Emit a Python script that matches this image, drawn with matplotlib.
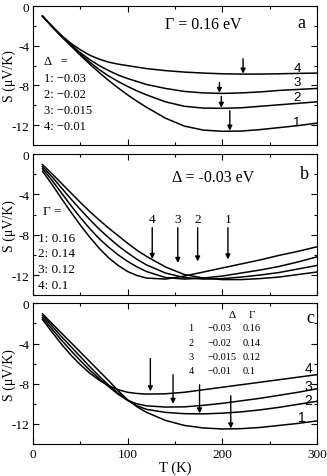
import matplotlib
matplotlib.use("Agg")
import matplotlib.pyplot as plt
from matplotlib.ticker import MultipleLocator

plt.rcParams['font.family'] = ['Liberation Serif', 'DejaVu Serif']
plt.rcParams['mathtext.fontset'] = 'stix'

# ----------------------------
# Data
# ----------------------------

T = [10, 20, 30, 40, 50, 60, 70, 80, 90, 100, 110, 120,
     140, 160, 180, 200, 220, 240, 260, 280, 300]

# panel a: Gamma = 0.16 eV, Delta varies
a1 = [-1.0, -2.05, -3.05, -4.0, -4.95, -5.85, -6.7, -7.5, -8.25, -8.95, -9.6, -10.2,
      -11.3, -12.1, -12.5, -12.62, -12.6, -12.45, -12.25, -12.05, -11.8]
a2 = [-1.0, -2.05, -3.05, -3.95, -4.85, -5.65, -6.4, -7.05, -7.6, -8.1, -8.55, -8.95,
      -9.65, -10.1, -10.28, -10.3, -10.25, -10.1, -9.95, -9.8, -9.65]
a3 = [-1.0, -2.05, -3.0, -3.9, -4.7, -5.4, -6.0, -6.5, -6.95, -7.3, -7.6, -7.9,
      -8.3, -8.6, -8.75, -8.8, -8.75, -8.65, -8.5, -8.4, -8.3]
a4 = [-1.0, -2.0, -2.95, -3.75, -4.4, -4.95, -5.35, -5.65, -5.85, -6.0, -6.15, -6.3,
      -6.5, -6.65, -6.75, -6.82, -6.85, -6.85, -6.82, -6.78, -6.75]

# panel b: Delta = -0.03 eV, Gamma varies
b1 = [-1.05, -1.95, -2.9, -3.85, -4.8, -5.7, -6.55, -7.35, -8.1, -8.85, -9.55, -10.15,
      -11.2, -11.95, -12.3, -12.45, -12.45, -12.35, -12.2, -11.95, -11.7]
b2 = [-1.25, -2.25, -3.35, -4.45, -5.5, -6.5, -7.45, -8.3, -9.1, -9.8, -10.45, -11.0,
      -11.8, -12.25, -12.4, -12.35, -12.2, -12.0, -11.75, -11.4, -11.05]
b3 = [-1.45, -2.6, -3.85, -5.1, -6.3, -7.4, -8.4, -9.25, -10.0, -10.65, -11.2, -11.65,
      -12.25, -12.4, -12.3, -12.1, -11.8, -11.5, -11.15, -10.7, -10.2]
b4 = [-1.7, -3.0, -4.4, -5.75, -7.05, -8.25, -9.35, -10.3, -11.05, -11.65, -12.05, -12.3,
      -12.4, -12.1, -11.7, -11.3, -10.9, -10.5, -10.05, -9.65, -9.2]

# panel c: both vary
c1 = [-1.05, -2.0, -2.95, -3.9, -4.85, -5.8, -6.75, -7.7, -8.7, -9.6, -10.3, -10.85,
      -11.65, -12.15, -12.4, -12.5, -12.47, -12.35, -12.15, -11.95, -11.7]
c2 = [-1.2, -2.25, -3.3, -4.3, -5.3, -6.3, -7.25, -8.15, -8.95, -9.65, -10.2, -10.55,
      -10.85, -10.98, -11.0, -10.93, -10.8, -10.6, -10.35, -10.05, -9.75]
c3 = [-1.4, -2.55, -3.65, -4.7, -5.7, -6.65, -7.5, -8.3, -9.05, -9.65, -10.0, -10.2,
      -10.32, -10.3, -10.15, -9.95, -9.7, -9.45, -9.15, -8.85, -8.5]
c4 = [-1.6, -2.85, -4.05, -5.15, -6.1, -6.95, -7.65, -8.2, -8.6, -8.85, -8.97, -9.03,
      -9.0, -8.85, -8.6, -8.35, -8.1, -7.85, -7.6, -7.35, -7.1]

# arrows: (T, S_start, S_tip)
arrows_a = [(208, -10.55, -12.55), (199, -9.1, -10.25), (197, -7.7, -8.75), (222, -5.3, -6.8)]
arrows_b = [(206, -7.3, -10.45), (174, -7.3, -10.65), (153, -7.3, -10.8), (126, -7.3, -10.4)]
arrows_c = [(209, -9.2, -12.45), (176, -8.1, -10.95), (148, -7.1, -10.0), (124, -5.5, -8.75)]

delta_labels = ["\u22120.03", "\u22120.02", "\u22120.015", "\u22120.01"]
gamma_labels = ["0.16", "0.14", "0.12", "0.1"]

# ----------------------------
# Plot
# ----------------------------

fig = plt.figure(figsize=(3.27, 4.77), dpi=100)
left, width = 0.101, 0.868
ax_a = fig.add_axes([left, 0.694, width, 0.291])
ax_b = fig.add_axes([left, 0.379, width, 0.296])
ax_c = fig.add_axes([left, 0.067, width, 0.295])


def style(ax, show_x):
    ax.set_xlim(0, 300)
    ax.set_ylim(-14, 0)
    ax.xaxis.set_major_locator(MultipleLocator(100))
    ax.xaxis.set_minor_locator(MultipleLocator(50))
    ax.yaxis.set_major_locator(MultipleLocator(4))
    ax.yaxis.set_minor_locator(MultipleLocator(2))
    ax.tick_params(which='both', direction='in', top=True, right=True, labelsize=9.5, pad=2.5)
    ax.tick_params(which='major', length=4, width=0.8)
    ax.tick_params(which='minor', length=2.5, width=0.8)
    ax.set_yticks([0, -4, -8, -12])
    ax.set_yticklabels(["0", "-4", "-8", "-12"])
    if not show_x:
        ax.set_xticklabels([])
    ax.set_ylabel("S (\u03bcV/K)", fontsize=10)
    ax.yaxis.set_label_coords(-0.06, 0.5)


def arrow(ax, T0, s0, s1):
    ax.annotate("", xy=(T0, s1), xytext=(T0, s0),
                arrowprops=dict(arrowstyle='-|>', color='k', lw=1.0,
                                mutation_scale=7, shrinkA=0, shrinkB=0))


sans = ['Liberation Sans', 'DejaVu Sans']

# panel a
for s in (a1, a2, a3, a4):
    ax_a.plot(T, s, color='k', lw=1.1)
for t0, s0, s1 in arrows_a:
    arrow(ax_a, t0, s0, s1)
for lab, tx, sy in zip(["4", "3", "2", "1"], [279, 279, 279, 279], [-6.2, -7.6, -9.2, -11.65]):
    ax_a.text(tx, sy, lab, fontsize=9.5, family=sans, ha='center', va='center')
ax_a.text(180, -1.75, "\u0393 = 0.16 eV", fontsize=11.5, ha='center', va='center')
ax_a.text(284, -1.6, "a", fontsize=13, ha='center', va='center')
ax_a.text(11.5, -5.5, "\u0394   =", fontsize=9, va='center')
for i, d in enumerate(delta_labels):
    ax_a.text(11.5, -7.25 - 1.62 * i, f"{i + 1}: {d}", fontsize=9, va='center')
style(ax_a, False)

# panel b
for s in (b1, b2, b3, b4):
    ax_b.plot(T, s, color='k', lw=1.1)
for lab, (t0, s0, s1) in zip(["1", "2", "3", "4"], arrows_b):
    arrow(ax_b, t0, s0, s1)
    ax_b.text(t0, s0 + 0.85, lab, fontsize=9.5, ha='center', va='center')
ax_b.text(190, -2.3, "\u0394 = -0.03 eV", fontsize=11.5, ha='center', va='center')
ax_b.text(287, -1.95, "b", fontsize=13, ha='center', va='center')
ax_b.text(10.5, -5.6, "\u0393 =", fontsize=9.5, va='center')
for i, g in enumerate(gamma_labels):
    ax_b.text(5.5, -8.3 - 1.55 * i, f"{i + 1}: {g}", fontsize=9.5, va='center')
style(ax_b, False)

# panel c
for s in (c1, c2, c3, c4):
    ax_c.plot(T, s, color='k', lw=1.1)
for t0, s0, s1 in arrows_c:
    arrow(ax_c, t0, s0, s1)
for lab, tx, sy in zip(["4", "3", "2", "1"], [291, 291, 291, 284], [-6.45, -8.2, -9.6, -11.35]):
    ax_c.text(tx, sy, lab, fontsize=10, family=sans, ha='center', va='center')
ax_c.text(293, -1.45, "c", fontsize=13, ha='center', va='center')
ax_c.text(210, -1.1, "\u0394", fontsize=8, ha='center', va='center')
ax_c.text(231, -1.1, "\u0393", fontsize=8, ha='center', va='center')
for i, (d, g) in enumerate(zip(delta_labels, gamma_labels)):
    y = -2.45 - 1.4 * i
    ax_c.text(167, y, str(i + 1), fontsize=7.5, ha='center', va='center')
    ax_c.text(184, y, d, fontsize=7.5, va='center')
    ax_c.text(222, y, g, fontsize=7.5, va='center')
style(ax_c, True)
ax_c.set_xlabel("T (K)", fontsize=10.5, labelpad=1)

fig.savefig("out.png", dpi=100)
